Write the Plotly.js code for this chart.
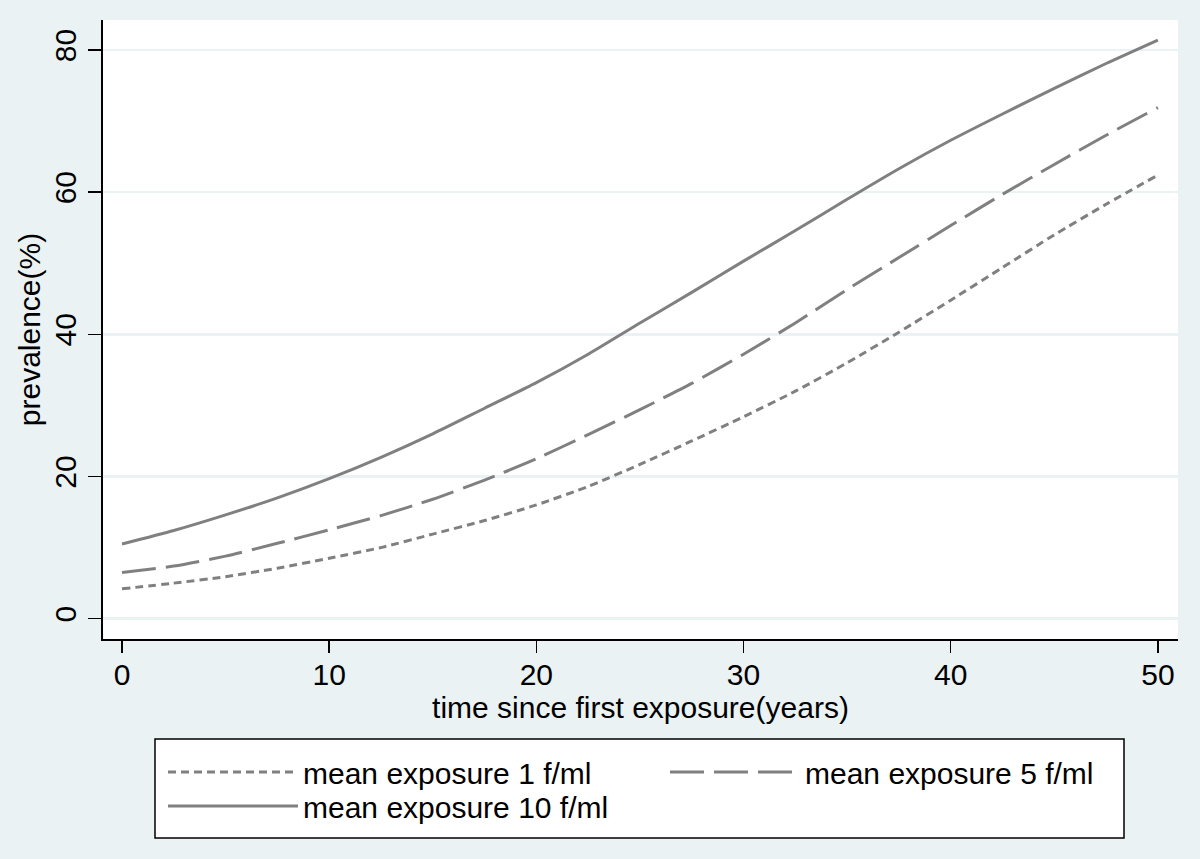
<!DOCTYPE html>
<html>
<head>
<meta charset="utf-8">
<script src="https://cdn.plot.ly/plotly-3.0.1.min.js"></script>
<style>html,body{margin:0;padding:0;background:#EAF2F3;}</style>
</head>
<body>
<div id="chart" style="width:1200px;height:859px;"></div>
<script>
// time since first exposure (years)
const years = [0, 2.5, 5, 7.5, 10, 12.5, 15, 17.5, 20, 22.5, 25, 27.5, 30, 32.5, 35, 37.5, 40, 42.5, 45, 47.5, 50];
// prevalence (%) by mean exposure
const exp1 = [4.2, 5.0, 5.9, 7.1, 8.5, 10.0, 11.9, 13.8, 16.0, 18.6, 21.7, 25.0, 28.4, 32.0, 36.0, 40.3, 44.8, 49.4, 54.0, 58.3, 62.4];
const exp5 = [6.5, 7.4, 8.8, 10.6, 12.5, 14.5, 16.8, 19.5, 22.5, 25.9, 29.4, 33.1, 37.2, 41.6, 46.3, 50.8, 55.3, 59.7, 63.9, 68.0, 71.9];
const exp10 = [10.5, 12.4, 14.6, 17.0, 19.7, 22.7, 26.0, 29.6, 33.2, 37.2, 41.6, 45.9, 50.3, 54.6, 59.0, 63.3, 67.3, 71.0, 74.6, 78.1, 81.4];
const seriesNames = ["mean exposure 1 f/ml", "mean exposure 5 f/ml", "mean exposure 10 f/ml"];
const xTicks = [0, 10, 20, 30, 40, 50];
const yTicks = [0, 20, 40, 60, 80];

const FONT = "Liberation Sans, Arial, Helvetica, sans-serif";
const LINECOL = "#808080";
const BG = "#EAF2F3";

const traces = [
  {x: years, y: exp1, name: seriesNames[0], legend: "legend", mode: "lines", line: {color: LINECOL, width: 3, dash: "8px,5px", shape: "spline", smoothing: 0.6}},
  {x: years, y: exp5, name: seriesNames[1], legend: "legend", mode: "lines", line: {color: LINECOL, width: 3, dash: "34px,10px", shape: "spline", smoothing: 0.6}},
  {x: years, y: exp10, name: seriesNames[2], legend: "legend2", mode: "lines", line: {color: LINECOL, width: 3, shape: "spline", smoothing: 0.6}}
];

// plot area in px: x 103..1178, y 20..639
const pw = 1075, ph = 619;
const px2x = p => (p - 103) / pw;
const px2y = p => (639 - p) / ph;

const legendBase = {
  orientation: "h", xanchor: "left", yanchor: "top",
  bgcolor: "rgba(0,0,0,0)", borderwidth: 0,
  itemwidth: 130, entrywidth: 357,
  font: {family: FONT, size: 30, color: "#000000"},
  traceorder: "normal"
};

const layout = {
  width: 1200, height: 859,
  paper_bgcolor: BG, plot_bgcolor: "#FFFFFF",
  margin: {l: 103, r: 22, t: 20, b: 220, pad: 0},
  font: {family: FONT, size: 30, color: "#000000"},
  showlegend: true,
  xaxis: {
    range: [-0.917, 50.97], tickvals: xTicks, ticktext: xTicks.map(String),
    ticks: "outside", ticklen: 12, tickwidth: 1.5, tickcolor: "#000000",
    showline: true, linecolor: "#000000", linewidth: 2,
    showgrid: false, zeroline: false,
    tickfont: {family: FONT, size: 30},
    ticklabelstandoff: -4,
    title: {text: "time since first exposure(years)", font: {family: FONT, size: 30}, standoff: 0}
  },
  yaxis: {
    range: [-2.86, 84.22], tickvals: yTicks, ticktext: yTicks.map(String), tickangle: -90,
    ticks: "outside", ticklen: 13, tickwidth: 1.5, tickcolor: "#000000",
    showline: true, linecolor: "#000000", linewidth: 2,
    showgrid: true, gridcolor: BG, gridwidth: 2.5, zeroline: false,
    tickfont: {family: FONT, size: 30},
    title: {text: "prevalence(%)", font: {family: FONT, size: 30}, standoff: 0}
  },
  legend: Object.assign({}, legendBase, {x: px2x(163), y: px2y(746)}),
  legend2: Object.assign({}, legendBase, {x: px2x(163), y: px2y(780)}),
  shapes: [{
    type: "rect", xref: "paper", yref: "paper",
    x0: px2x(155), x1: px2x(1124), y0: px2y(739), y1: px2y(838),
    fillcolor: "#FFFFFF", line: {color: "#000000", width: 1.5}, layer: "below"
  }]
};

Plotly.newPlot("chart", traces, layout, {displayModeBar: false, staticPlot: true});
</script>
</body>
</html>
